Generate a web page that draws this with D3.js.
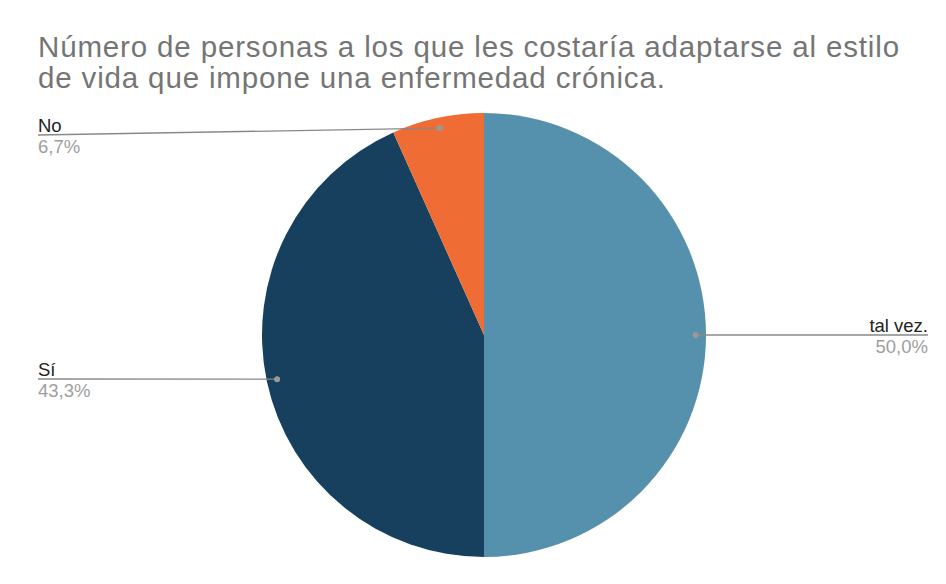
<!DOCTYPE html>
<html>
<head>
<meta charset="utf-8">
<script src="https://cdn.jsdelivr.net/npm/d3@7"></script>
<style>
  body { margin: 0; background: #fff; }
  text { font-family: "Liberation Sans", Arial, sans-serif; }
</style>
</head>
<body>
<div id="chart"></div>
<script>
var width = 946, height = 584;

// data
var categories = ["tal vez.", "Sí", "No"];
var values = [50.0, 43.3, 6.7];
var colors = ["#5590ad", "#16405e", "#f06c35"];

var svg = d3.select('#chart')
            .append('svg')
            .attr('width', width)
            .attr('height', height);

// title
var title = svg.append('text')
      .attr('x', 38)
      .attr('y', 57)
      .style('font-size', '29.5px')
      .style('letter-spacing', '0.85px')
      .attr('fill', '#757575');
title.append('tspan').attr('x', 38).attr('y', 57)
     .text("Número de personas a los que les costaría adaptarse al estilo");
title.append('tspan').attr('x', 38).attr('y', 88)
     .text("de vida que impone una enfermedad crónica.");

var cx = 484, cy = 335, r = 222;

var data = categories.map(function(c, i) {
  return {name: c, value: values[i], color: colors[i]};
});

var pie = d3.pie().sort(null).value(d => d.value);
var arc = d3.arc().innerRadius(0).outerRadius(r);

var g = svg.append('g').attr('transform', 'translate(' + [cx, cy] + ')');

var arcs = pie(data);

g.selectAll('path')
  .data(arcs).enter().append('path')
  .attr('d', arc)
  .attr('fill', d => d.data.color);

// label positions (y of leader line, side)
var labelPos = {
  "tal vez.": {y: 335, side: 'right'},
  "Sí": {y: 379, side: 'left'},
  "No": {y: 135, side: 'left'}
};

var fmt = function(v) { return v.toFixed(1).replace('.', ',') + '%'; };

arcs.forEach(function(d) {
  var a = (d.startAngle + d.endAngle) / 2;
  var px = cx + Math.sin(a) * r * 0.953;
  var py = cy - Math.cos(a) * r * 0.953;
  var lp = labelPos[d.data.name];
  var ex = lp.side === 'left' ? 38 : 928;
  var anchor = lp.side === 'left' ? 'start' : 'end';

  svg.append('line')
     .attr('x1', px).attr('y1', py)
     .attr('x2', ex).attr('y2', lp.y)
     .attr('stroke', '#888')
     .attr('stroke-width', 1.3);
  svg.append('circle')
     .attr('cx', px).attr('cy', py)
     .attr('r', 3)
     .attr('fill', '#999');
  svg.append('text')
     .attr('x', ex).attr('y', lp.y - 3)
     .attr('text-anchor', anchor)
     .style('font-size', '18.5px')
     .attr('fill', '#222')
     .text(d.data.name);
  svg.append('text')
     .attr('x', ex).attr('y', lp.y + 18)
     .attr('text-anchor', anchor)
     .style('font-size', '18.5px')
     .attr('fill', '#9e9e9e')
     .text(fmt(d.data.value));
});
</script>
</body>
</html>
